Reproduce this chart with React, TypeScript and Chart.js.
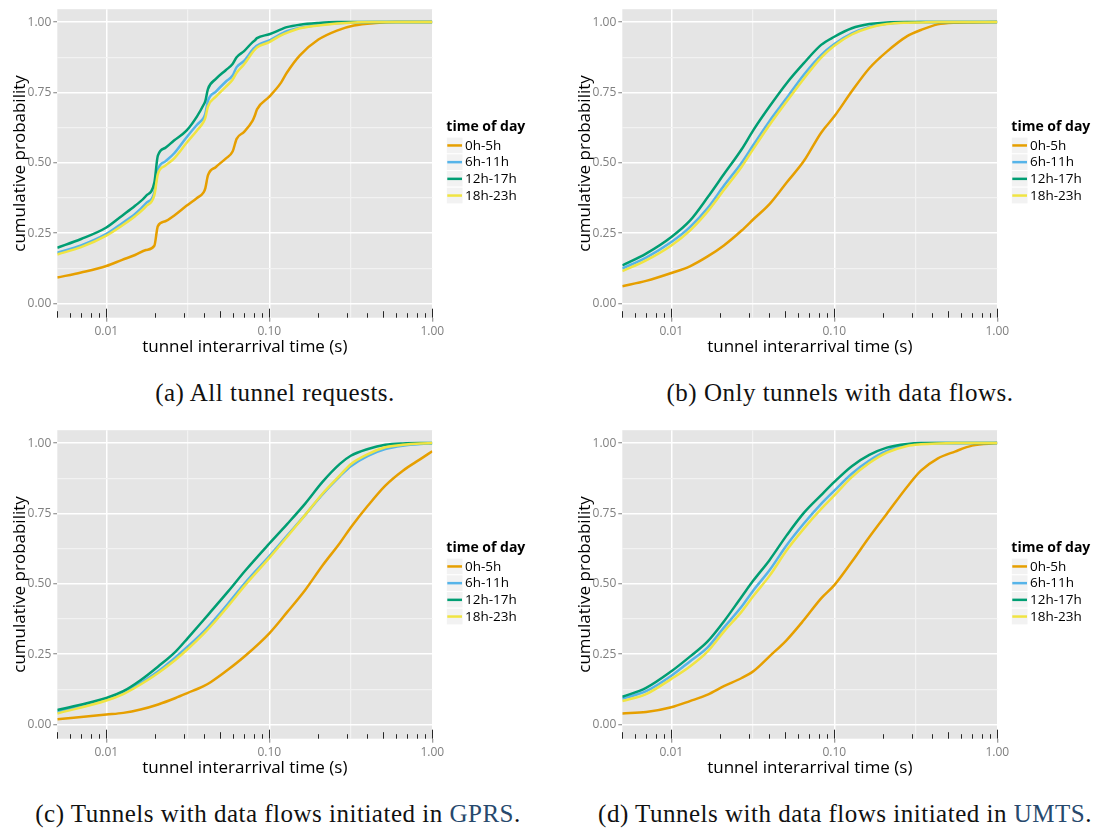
import React, { useEffect, useRef } from "react";
import { Chart, registerables } from "chart.js";

Chart.register(...registerables);

// ---- shared legend / axes ----
const legendTitle = "time of day";
const seriesLabels = ["0h-5h", "6h-11h", "12h-17h", "18h-23h"];
const seriesColors = ["#E69F00", "#56B4E9", "#009E73", "#F0E442"];

const xTitle = "tunnel interarrival time (s)";
const yTitle = "cumulative probability";
const xMajorTicks = [0.01, 0.1, 1];
const xTickLabels = ["0.01", "0.10", "1.00"];
const xMinorTicks = [0.0316, 0.316];
const yMajorTicks = [0, 0.25, 0.5, 0.75, 1];
const yTickLabels = ["0.00", "0.25", "0.50", "0.75", "1.00"];
const yMinorTicks = [0.125, 0.375, 0.625, 0.875];
const logDecades = [0.001, 0.01, 0.1, 1];
const logMultipliers = [1, 2, 3, 4, 5, 6, 7, 8, 9];

// ---- (a) all tunnel requests ----
const allReqTimes = [0.005, 0.007, 0.01, 0.0125, 0.015, 0.0175, 0.0197, 0.0207, 0.023, 0.026, 0.031, 0.036, 0.0395, 0.0405, 0.042, 0.047, 0.054, 0.0595, 0.063, 0.07, 0.079, 0.0815, 0.084, 0.1, 0.118, 0.128, 0.154, 0.2, 0.26, 0.33, 0.45, 0.6, 1.0];
const allReq0h = [0.092, 0.11, 0.133, 0.155, 0.172, 0.19, 0.205, 0.275, 0.292, 0.312, 0.347, 0.375, 0.395, 0.41, 0.455, 0.485, 0.515, 0.54, 0.585, 0.61, 0.65, 0.668, 0.69, 0.735, 0.785, 0.82, 0.882, 0.938, 0.97, 0.988, 0.997, 1.0, 1.0];
const allReq6h = [0.18, 0.206, 0.247, 0.285, 0.318, 0.356, 0.395, 0.475, 0.505, 0.533, 0.59, 0.635, 0.66, 0.675, 0.72, 0.753, 0.788, 0.81, 0.84, 0.862, 0.902, 0.91, 0.917, 0.935, 0.958, 0.968, 0.98, 0.99, 0.996, 0.999, 1.0, 1.0, 1.0];
const allReq12h = [0.198, 0.229, 0.27, 0.312, 0.347, 0.382, 0.43, 0.525, 0.553, 0.579, 0.614, 0.665, 0.706, 0.72, 0.762, 0.798, 0.829, 0.851, 0.875, 0.897, 0.929, 0.935, 0.943, 0.957, 0.974, 0.982, 0.991, 0.997, 1.0, 1.0, 1.0, 1.0, 1.0];
const allReq18h = [0.174, 0.2, 0.241, 0.277, 0.31, 0.345, 0.385, 0.46, 0.49, 0.515, 0.57, 0.615, 0.645, 0.66, 0.7, 0.735, 0.77, 0.795, 0.82, 0.85, 0.893, 0.902, 0.91, 0.929, 0.953, 0.962, 0.978, 0.988, 0.995, 0.999, 1.0, 1.0, 1.0];

// ---- (b) only tunnels with data flows ----
const flowTimes = [0.005, 0.007, 0.01, 0.013, 0.0167, 0.021, 0.027, 0.032, 0.04, 0.051, 0.065, 0.083, 0.1, 0.128, 0.164, 0.21, 0.28, 0.34, 0.43, 0.55, 0.7, 1.0];
const flow0h = [0.061, 0.08, 0.108, 0.132, 0.167, 0.206, 0.259, 0.3, 0.353, 0.43, 0.506, 0.607, 0.665, 0.754, 0.836, 0.895, 0.95, 0.972, 0.992, 0.998, 0.999, 1.0];
const flow6h = [0.124, 0.163, 0.218, 0.271, 0.339, 0.418, 0.5, 0.565, 0.648, 0.73, 0.813, 0.883, 0.922, 0.96, 0.983, 0.994, 0.999, 1.0, 1.0, 1.0, 1.0, 1.0];
const flow12h = [0.135, 0.177, 0.236, 0.294, 0.377, 0.459, 0.548, 0.618, 0.7, 0.783, 0.854, 0.919, 0.948, 0.978, 0.993, 0.999, 1.0, 1.0, 1.0, 1.0, 1.0, 1.0];
const flow18h = [0.115, 0.153, 0.206, 0.259, 0.327, 0.403, 0.486, 0.551, 0.634, 0.718, 0.799, 0.874, 0.916, 0.956, 0.98, 0.993, 0.998, 0.999, 1.0, 1.0, 1.0, 1.0];

// ---- (c) data flows initiated in GPRS ----
const gprsTimes = [0.005, 0.01, 0.0127, 0.0162, 0.0208, 0.0266, 0.0316, 0.0395, 0.0436, 0.0559, 0.0715, 0.1, 0.129, 0.166, 0.212, 0.271, 0.316, 0.403, 0.515, 0.66, 0.845, 1.0];
const gprs0h = [0.018, 0.035, 0.041, 0.053, 0.071, 0.094, 0.112, 0.136, 0.15, 0.195, 0.245, 0.324, 0.4, 0.478, 0.565, 0.645, 0.7, 0.778, 0.849, 0.902, 0.943, 0.971];
const gprs6h = [0.044, 0.088, 0.112, 0.147, 0.189, 0.239, 0.277, 0.33, 0.357, 0.43, 0.505, 0.598, 0.672, 0.745, 0.818, 0.882, 0.918, 0.955, 0.979, 0.991, 0.997, 0.999];
const gprs12h = [0.051, 0.094, 0.118, 0.157, 0.206, 0.259, 0.307, 0.371, 0.4, 0.473, 0.548, 0.643, 0.713, 0.785, 0.862, 0.926, 0.955, 0.979, 0.994, 0.999, 1.0, 1.0];
const gprs18h = [0.039, 0.085, 0.108, 0.142, 0.183, 0.23, 0.268, 0.322, 0.348, 0.421, 0.497, 0.592, 0.668, 0.745, 0.82, 0.885, 0.925, 0.961, 0.985, 0.994, 0.999, 1.0];

// ---- (d) data flows initiated in UMTS ----
const umtsTimes = [0.005, 0.007, 0.01, 0.013, 0.0167, 0.021, 0.027, 0.032, 0.04, 0.051, 0.065, 0.083, 0.1, 0.128, 0.164, 0.21, 0.28, 0.34, 0.43, 0.55, 0.7, 1.0];
const umts0h = [0.039, 0.044, 0.061, 0.083, 0.106, 0.136, 0.165, 0.19, 0.242, 0.3, 0.371, 0.448, 0.495, 0.578, 0.666, 0.749, 0.845, 0.902, 0.945, 0.97, 0.991, 1.0];
const umts6h = [0.091, 0.118, 0.173, 0.224, 0.274, 0.344, 0.419, 0.478, 0.548, 0.637, 0.714, 0.784, 0.831, 0.891, 0.938, 0.972, 0.993, 0.999, 1.0, 1.0, 1.0, 1.0];
const umts12h = [0.098, 0.13, 0.189, 0.241, 0.295, 0.366, 0.454, 0.513, 0.584, 0.672, 0.752, 0.815, 0.862, 0.918, 0.958, 0.984, 0.997, 1.0, 1.0, 1.0, 1.0, 1.0];
const umts18h = [0.083, 0.108, 0.162, 0.206, 0.26, 0.33, 0.401, 0.458, 0.528, 0.619, 0.696, 0.766, 0.814, 0.879, 0.929, 0.966, 0.99, 0.996, 0.999, 1.0, 1.0, 1.0];

const SANS = '"Open Sans", "DejaVu Sans", sans-serif';
const SERIF = '"Liberation Serif", "DejaVu Serif", serif';
const LINK = "#27496d";

const CANVAS_W = 534;
const CANVAS_H = 360;
const PLOT_LEFT = 57.3;
const PLOT_TOP = 7;
const PLOT_RIGHT = 432.3;
const PLOT_BOTTOM = 317.7;

type PanelSpec = {
  times: number[];
  series: number[][];
  left: number;
  top: number;
  captionCenter: number;
  caption: React.ReactNode;
};

const panels: PanelSpec[] = [
  {
    times: allReqTimes,
    series: [allReq0h, allReq6h, allReq12h, allReq18h],
    left: 0,
    top: 0,
    captionCenter: 275,
    caption: "(a) All tunnel requests.",
  },
  {
    times: flowTimes,
    series: [flow0h, flow6h, flow12h, flow18h],
    left: 565,
    top: 0,
    captionCenter: 840,
    caption: "(b) Only tunnels with data flows.",
  },
  {
    times: gprsTimes,
    series: [gprs0h, gprs6h, gprs12h, gprs18h],
    left: 0,
    top: 421,
    captionCenter: 278,
    caption: (
      <>
        (c) Tunnels with data flows initiated in <span style={{ color: LINK }}>GPRS</span>.
      </>
    ),
  },
  {
    times: umtsTimes,
    series: [umts0h, umts6h, umts12h, umts18h],
    left: 565,
    top: 421,
    captionCenter: 845,
    caption: (
      <>
        (d) Tunnels with data flows initiated in <span style={{ color: LINK }}>UMTS</span>.
      </>
    ),
  },
];

// grey panel background behind the grid
const panelBackground = {
  id: "panelBackground",
  beforeDraw(chart: any) {
    const { ctx, chartArea: a } = chart;
    ctx.save();
    ctx.fillStyle = "#E5E5E5";
    ctx.fillRect(a.left, a.top, a.right - a.left, a.bottom - a.top);
    ctx.restore();
  },
};

// log ticks along the bottom edge of the panel
const logTicks = {
  id: "logTicks",
  beforeDatasetsDraw(chart: any) {
    const { ctx, chartArea: a, scales } = chart;
    const xs = scales.x;
    ctx.save();
    ctx.strokeStyle = "#262626";
    ctx.lineWidth = 1;
    logDecades.forEach((d) => {
      logMultipliers.forEach((m) => {
        const v = d * m;
        if (v < xs.min * 0.999 || v > xs.max * 1.001) return;
        const len = m === 1 ? 9 : m === 5 ? 6.5 : 4.5;
        const px = Math.round(xs.getPixelForValue(v)) + 0.5;
        ctx.beginPath();
        ctx.moveTo(px, a.bottom);
        ctx.lineTo(px, a.bottom - len);
        ctx.stroke();
      });
    });
    ctx.restore();
  },
};

// ggplot-style legend to the right of the panel
const keyLegend = {
  id: "keyLegend",
  afterDraw(chart: any) {
    const { ctx, chartArea: a } = chart;
    const x0 = a.right + 14;
    const mid = (a.top + a.bottom) / 2;
    const key = 16.7;
    ctx.save();
    ctx.fillStyle = "#000";
    ctx.textAlign = "left";
    ctx.textBaseline = "alphabetic";
    ctx.font = `bold 14px ${SANS}`;
    ctx.fillText(legendTitle, x0, mid - 32);
    chart.data.datasets.forEach((ds: any, i: number) => {
      const cy = mid - 18 + i * key;
      ctx.fillStyle = "#F2F2F2";
      ctx.fillRect(x0, cy - key / 2, key, key);
      ctx.strokeStyle = "#FFFFFF";
      ctx.lineWidth = 1;
      ctx.strokeRect(x0, cy - key / 2, key, key);
      ctx.strokeStyle = ds.borderColor;
      ctx.lineWidth = 2.5;
      ctx.beginPath();
      ctx.moveTo(x0 + 1, cy);
      ctx.lineTo(x0 + key - 1, cy);
      ctx.stroke();
      ctx.fillStyle = "#000";
      ctx.font = `13.5px ${SANS}`;
      ctx.textBaseline = "middle";
      ctx.fillText(ds.label, x0 + key + 2, cy + 0.5);
      ctx.textBaseline = "alphabetic";
    });
    ctx.restore();
  },
};

const isIn = (arr: number[], v: number) => arr.some((t) => Math.abs(t - v) < 1e-9);

function CdfPanel({ times, series }: { times: number[]; series: number[][] }) {
  const ref = useRef<HTMLCanvasElement>(null);

  useEffect(() => {
    const canvas = ref.current;
    if (!canvas) return;
    const chart = new Chart(canvas, {
      type: "line",
      data: {
        datasets: series.map((ys, i) => ({
          label: seriesLabels[i],
          data: times.map((t, j) => ({ x: t, y: ys[j] })),
          borderColor: seriesColors[i],
          backgroundColor: seriesColors[i],
          borderWidth: 2.5,
          pointRadius: 0,
          fill: false,
          cubicInterpolationMode: "monotone" as const,
          order: series.length - i,
        })),
      },
      options: {
        animation: false,
        responsive: false,
        maintainAspectRatio: false,
        devicePixelRatio: 1,
        layout: { padding: { top: PLOT_TOP, right: CANVAS_W - PLOT_RIGHT, left: 0, bottom: 0 } },
        plugins: { legend: { display: false }, tooltip: { enabled: false } },
        scales: {
          x: {
            type: "logarithmic",
            min: 0.005,
            max: 1,
            afterBuildTicks: (s: any) => {
              s.ticks = [...xMajorTicks, ...xMinorTicks].sort((p, q) => p - q).map((v) => ({ value: v }));
            },
            afterFit: (s: any) => {
              s.height = CANVAS_H - PLOT_BOTTOM;
            },
            border: { display: false },
            grid: {
              color: (c: any) => (isIn(xMajorTicks, c.tick.value) ? "#FFFFFF" : "#F2F2F2"),
              lineWidth: (c: any) => (isIn(xMajorTicks, c.tick.value) ? 1.5 : 1.2),
              tickColor: (c: any) => (isIn(xMajorTicks, c.tick.value) ? "#7F7F7F" : "rgba(0,0,0,0)"),
              tickLength: 4,
              tickWidth: 1,
            },
            ticks: {
              autoSkip: false,
              maxRotation: 0,
              minRotation: 0,
              padding: 3,
              color: "#7F7F7F",
              font: { family: SANS, size: 12 },
              callback: (v: any) => {
                const k = xMajorTicks.findIndex((t) => Math.abs(t - Number(v)) < 1e-9);
                return k >= 0 ? xTickLabels[k] : "";
              },
            },
            title: {
              display: true,
              text: xTitle,
              color: "#000",
              font: { family: SANS, size: 17 },
              padding: { top: 0, bottom: 3 },
            },
          },
          y: {
            type: "linear",
            min: -0.0508,
            max: 1.0459,
            afterBuildTicks: (s: any) => {
              s.ticks = [...yMajorTicks, ...yMinorTicks].sort((p, q) => p - q).map((v) => ({ value: v }));
            },
            afterFit: (s: any) => {
              s.width = PLOT_LEFT;
            },
            border: { display: false },
            grid: {
              color: (c: any) => (isIn(yMajorTicks, c.tick.value) ? "#FFFFFF" : "#F2F2F2"),
              lineWidth: (c: any) => (isIn(yMajorTicks, c.tick.value) ? 1.5 : 1.2),
              tickColor: (c: any) => (isIn(yMajorTicks, c.tick.value) ? "#7F7F7F" : "rgba(0,0,0,0)"),
              tickLength: 4,
              tickWidth: 1,
            },
            ticks: {
              autoSkip: false,
              padding: 2,
              color: "#7F7F7F",
              font: { family: SANS, size: 12 },
              callback: (v: any) => {
                const k = yMajorTicks.findIndex((t) => Math.abs(t - Number(v)) < 1e-9);
                return k >= 0 ? yTickLabels[k] : "";
              },
            },
            title: {
              display: true,
              text: yTitle,
              color: "#000",
              font: { family: SANS, size: 17 },
              padding: { top: 10, bottom: 0 },
            },
          },
        },
      },
      plugins: [panelBackground, logTicks, keyLegend],
    } as any);
    return () => chart.destroy();
  }, [times, series]);

  return <canvas ref={ref} width={CANVAS_W} height={CANVAS_H} style={{ display: "block" }} />;
}

export default function App() {
  return (
    <div
      style={{
        position: "absolute",
        left: 0,
        top: 0,
        width: 1099,
        height: 830,
        background: "#FFFFFF",
        overflow: "hidden",
      }}
    >
      {panels.map((p, i) => (
        <React.Fragment key={i}>
          <div style={{ position: "absolute", left: p.left, top: p.top, width: CANVAS_W, height: CANVAS_H }}>
            <CdfPanel times={p.times} series={p.series} />
          </div>
          <div
            style={{
              position: "absolute",
              left: p.captionCenter - 300,
              width: 600,
              top: p.top + 378,
              textAlign: "center",
              fontFamily: SERIF,
              fontSize: 25,
              letterSpacing: 0.5,
              lineHeight: "30px",
              color: "#111",
              whiteSpace: "nowrap",
            }}
          >
            {p.caption}
          </div>
        </React.Fragment>
      ))}
    </div>
  );
}
